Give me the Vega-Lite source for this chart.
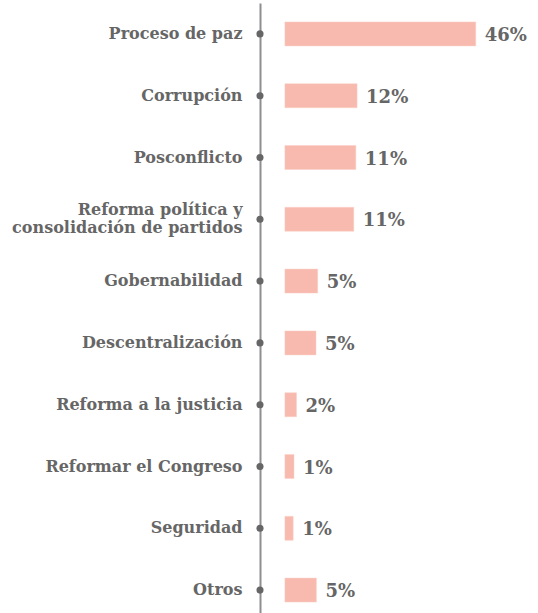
{
  "$schema": "https://vega.github.io/schema/vega-lite/v6.json",
  "autosize": {"type": "none"},
  "padding": {"left": 260, "top": 3, "right": 0, "bottom": 0},
  "width": 278,
  "height": 618,
  "background": "white",
  "config": {"view": {"stroke": null}},
  "data": {
    "values": [
      {"tema": "Proceso de paz", "valor": 46, "inicio": 0, "eje": -6, "etiqueta": "46%"},
      {"tema": "Corrupción", "valor": 17.4, "inicio": 0, "eje": -6, "etiqueta": "12%"},
      {"tema": "Posconflicto", "valor": 17.1, "inicio": 0, "eje": -6, "etiqueta": "11%"},
      {"tema": "Reforma política y consolidación de partidos", "valor": 16.6, "inicio": 0, "eje": -6, "etiqueta": "11%"},
      {"tema": "Gobernabilidad", "valor": 7.9, "inicio": 0, "eje": -6, "etiqueta": "5%"},
      {"tema": "Descentralización", "valor": 7.5, "inicio": 0, "eje": -6, "etiqueta": "5%"},
      {"tema": "Reforma a la justicia", "valor": 2.8, "inicio": 0, "eje": -6, "etiqueta": "2%"},
      {"tema": "Reformar el Congreso", "valor": 2.2, "inicio": 0, "eje": -6, "etiqueta": "1%"},
      {"tema": "Seguridad", "valor": 2.0, "inicio": 0, "eje": -6, "etiqueta": "1%"},
      {"tema": "Otros", "valor": 7.6, "inicio": 0, "eje": -6, "etiqueta": "5%"}
    ]
  },
  "layer": [
    {
      "mark": {"type": "bar", "size": 24, "fill": "#f8baae", "stroke": "#fbd0c7", "strokeWidth": 0.5},
      "encoding": {
        "y": {
          "field": "tema",
          "type": "nominal",
          "sort": null,
          "scale": {"paddingInner": 0, "paddingOuter": 0},
          "axis": {
            "title": null,
            "ticks": false,
            "domain": true,
            "domainColor": "#8e8e93",
            "domainWidth": 2,
            "labelFont": "DejaVu Serif",
            "labelFontWeight": "bold",
            "labelFontSize": 16,
            "labelColor": "#666666",
            "labelPadding": 18,
            "labelLimit": 400,
            "labelLineHeight": 18,
            "labelOffset": {"condition": {"test": "datum.value == 'Reforma política y consolidación de partidos'", "value": -9}, "value": 0},
            "labelExpr": "datum.value == 'Reforma política y consolidación de partidos' ? ['Reforma política y', 'consolidación de partidos'] : datum.value"
          }
        },
        "x": {"field": "valor", "type": "quantitative", "scale": {"domain": [-6, 61], "nice": false, "zero": false}, "axis": null},
        "x2": {"field": "inicio"}
      }
    },
    {
      "mark": {"type": "point", "filled": true, "size": 50, "color": "#666666", "opacity": 1},
      "encoding": {
        "y": {"field": "tema", "type": "nominal", "sort": null},
        "x": {"field": "eje", "type": "quantitative"}
      }
    },
    {
      "mark": {"type": "text", "align": "left", "baseline": "middle", "dx": 9, "dy": 2, "font": "DejaVu Serif", "fontWeight": "bold", "fontSize": 18, "color": "#666666"},
      "encoding": {
        "y": {"field": "tema", "type": "nominal", "sort": null},
        "x": {"field": "valor", "type": "quantitative"},
        "text": {"field": "etiqueta"}
      }
    }
  ]
}
